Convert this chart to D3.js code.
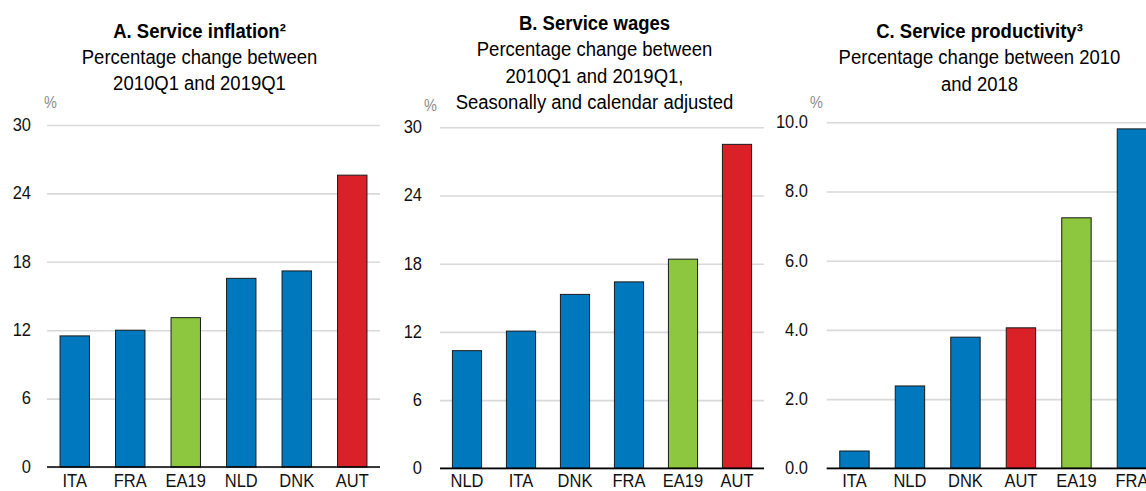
<!DOCTYPE html>
<html>
<head>
<meta charset="utf-8">
<script src="https://cdn.jsdelivr.net/npm/d3@7"></script>
<style>
  html, body { margin: 0; padding: 0; background: #fff; }
  svg { display: block; font-family: "Liberation Sans", Arial, sans-serif; }
</style>
</head>
<body>
<svg id="chart" width="1146" height="491"></svg>
<script>
// ---- Data ----
const catsA = ["ITA", "FRA", "EA19", "NLD", "DNK", "AUT"];
const valsA = [11.5, 12.0, 13.1, 16.55, 17.2, 25.6];
const ticksA = [0, 6, 12, 18, 24, 30];

const catsB = ["NLD", "ITA", "DNK", "FRA", "EA19", "AUT"];
const valsB = [10.35, 12.07, 15.3, 16.4, 18.4, 28.5];
const ticksB = [0, 6, 12, 18, 24, 30];

const catsC = ["ITA", "NLD", "DNK", "AUT", "EA19", "FRA"];
const valsC = [0.5, 2.38, 3.79, 4.06, 7.24, 9.81];
const ticksC = [0, 2, 4, 6, 8, 10];

const titleA = ["A. Service inflation\u00B2", "Percentage change between", "2010Q1 and 2019Q1"];
const titleB = ["B. Service wages", "Percentage change between", "2010Q1 and 2019Q1,", "Seasonally and calendar adjusted"];
const titleC = ["C. Service productivity\u00B3", "Percentage change between 2010", "and 2018"];

// ---- Styles ----
const BLUE = "#0078BE", GREEN = "#8DC73F", RED = "#DA2128";
const STRETCH = 1.08;
function colorFor(c) { return c === "AUT" ? RED : (c === "EA19" ? GREEN : BLUE); }

const svg = d3.select("#chart");

function panel(cfg) {
  const g = svg.append("g");
  const x = d3.scaleBand().domain(cfg.cats).range([cfg.x0, cfg.x1])
    .paddingInner(cfg.pad).paddingOuter(cfg.pad / 2);
  const y = d3.scaleLinear().domain([cfg.ticks[0], cfg.ticks[cfg.ticks.length - 1]])
    .range([cfg.yBottom, cfg.yTop]);

  // gridlines + tick labels via axisLeft
  const yAxis = d3.axisLeft(y).tickValues(cfg.ticks)
    .tickSize(-(cfg.x1 - cfg.x0)).tickPadding(cfg.x0 - cfg.labelRight)
    .tickFormat(cfg.fmt);
  const ya = g.append("g").attr("transform", `translate(${cfg.x0},0)`).call(yAxis);
  ya.select(".domain").remove();
  ya.selectAll(".tick line").attr("stroke", "#d9d9d9").attr("stroke-width", 1.6)
    .attr("x1", 0);
  ya.selectAll(".tick text").attr("font-size", 16.5).attr("fill", "#111")
    .attr("font-family", "Liberation Sans, Arial, sans-serif")
    .attr("x", -(cfg.x0 - cfg.labelRight)).attr("dy", "0.3em")
    .attr("transform", `scale(1,${STRETCH})`);

  // bars
  g.append("g").selectAll("rect").data(cfg.cats).join("rect")
    .attr("x", (d) => x(d))
    .attr("width", x.bandwidth())
    .attr("y", (d, i) => y(cfg.vals[i]))
    .attr("height", (d, i) => y(0) - y(cfg.vals[i]))
    .attr("fill", (d) => colorFor(d))
    .attr("stroke", "#1a1a1a").attr("stroke-width", 1);

  // x axis
  const xAxis = d3.axisBottom(x).tickSize(0).tickPadding(10);
  const xa = g.append("g").attr("transform", `translate(0,${y(0)})`).call(xAxis);
  xa.select(".domain").attr("stroke", "#000").attr("stroke-width", 1.7)
    .attr("d", `M${cfg.x0},0H${cfg.x1}`);
  xa.selectAll(".tick text").attr("font-size", 16.5).attr("fill", "#111")
    .attr("font-family", "Liberation Sans, Arial, sans-serif")
    .attr("dy", null).attr("y", (487 - y(0)) / STRETCH).attr("dominant-baseline", "auto")
    .attr("transform", `scale(1,${STRETCH})`);

  // unit label
  g.append("text").attr("transform", `translate(${cfg.pctX},${cfg.pctY}) scale(1,${STRETCH})`)
    .text("%").attr("font-size", 14.5).attr("fill", "#8c8c8c");

  // title lines
  cfg.title.forEach((t, i) => {
    g.append("text")
      .attr("transform", `translate(${cfg.tx},${cfg.ty + i * 26.4}) scale(1,${STRETCH})`)
      .attr("text-anchor", "middle")
      .attr("font-size", 18.5)
      .attr("font-weight", i === 0 ? "bold" : "normal")
      .attr("fill", "#000")
      .text(t);
  });
}

panel({ cats: catsA, vals: valsA, ticks: ticksA, fmt: d3.format("d"),
  x0: 47, x1: 380, pad: 0.47, yBottom: 467, yTop: 125, labelRight: 31,
  pctX: 44, pctY: 107.5, title: titleA, tx: 199.5, ty: 37.5 });

panel({ cats: catsB, vals: valsB, ticks: ticksB, fmt: d3.format("d"),
  x0: 440, x1: 764, pad: 0.46, yBottom: 468.3, yTop: 127.3, labelRight: 422,
  pctX: 424, pctY: 110.5, title: titleB, tx: 594.5, ty: 29.7 });

panel({ cats: catsC, vals: valsC, ticks: ticksC, fmt: d3.format(".1f"),
  x0: 826.7, x1: 1159.7, pad: 0.47, yBottom: 468.3, yTop: 122.3, labelRight: 808,
  pctX: 810, pctY: 107.5, title: titleC, tx: 979.5, ty: 37.7 });
</script>
</body>
</html>
